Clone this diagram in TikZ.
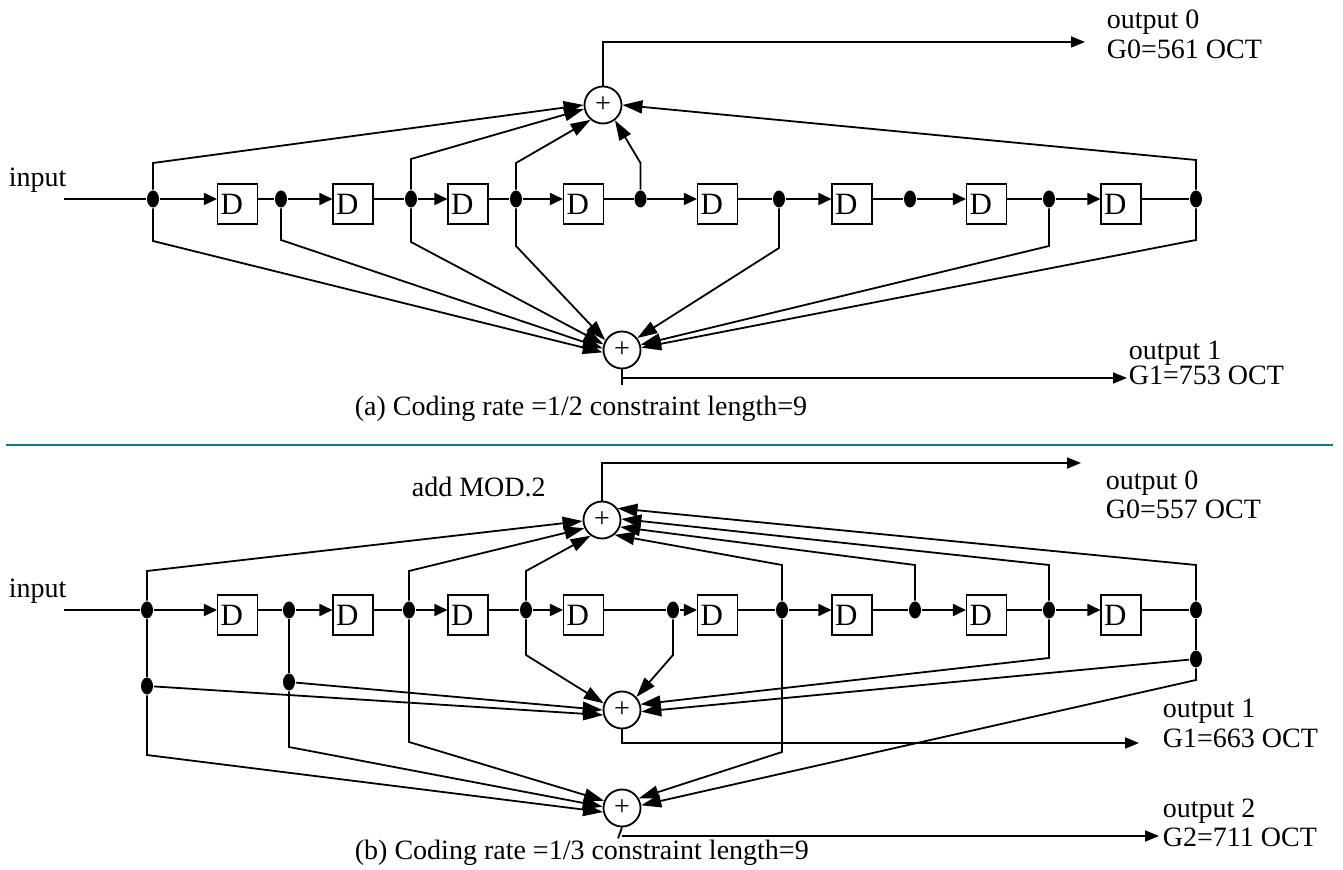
\documentclass[tikz,border=0pt]{standalone}
\usepackage{fontspec}
\setmainfont{Liberation Serif}
\usetikzlibrary{arrows.meta, shapes.geometric, calc}

\definecolor{sepline}{RGB}{0,128,128}

\tikzset{
  every node/.style={font=\fontsize{14}{15}\selectfont},
  dbox/.style={draw, line width=0.75pt, minimum height=20pt, text width=17pt,
                inner xsep=1.4pt, inner ysep=0pt, align=left, font=\fontsize{15.5}{16}\selectfont},
  tapdot/.style={ellipse, fill=black, inner sep=0pt, minimum width=6pt, minimum height=8.5pt},
  adder/.style={circle, draw, line width=0.9pt, minimum size=18.5pt, inner sep=0pt},
  tap/.style={-{Triangle[length=10pt,width=6.5pt]}},
  darr/.style={-{Triangle[length=6.5pt,width=6pt]}},
  outarr/.style={-{Triangle[length=7pt,width=5.5pt]}},
  lbl/.style={anchor=base west, inner sep=0pt}
}

\begin{document}
\begin{tikzpicture}[x=0.5pt, y=-0.5pt, line width=0.9pt]
\useasboundingbox (0,0) rectangle (1343,870);

% (a) 码率 1/2 的移位寄存器
\foreach \x [count=\i] in {237.5,353,468,583.5,717.5,852,986.5,1121}
  \node[dbox] (aD\i) at (\x,204) {D};
\foreach \x [count=\i] in {153,281,411,516,640.5,779,910,1049,1196}
  \node[tapdot] (a\i) at (\x,199) {};
\foreach \i [count=\j from 2] in {1,...,8}
  {\draw[darr] (a\i) -- (aD\i.west |- a\i);
   \draw (aD\i.east |- a\j) -- (a\j);}

\node[lbl] (ain) at (8,187) {input};
\coordinate (ain0) at (64,199);
\draw (ain0) -- (a1);

\node[adder] (aT) at (603,105) {+};
\node[adder] (aB) at (622,350) {+};

% 抽头 -> 模2加法器
\foreach \d/\h/\a in {a1/163/180, a3/159/192, a4/163/230, a5/163/308, a9/160/0}
  \draw[tap] (\d) -- (\d |- 0,\h) -- (aT.\a);
\foreach \d/\h/\a in {a1/241/187, a2/240/175, a3/242/163, a4/246/150,
                      a6/248/38, a8/246/16, a9/240/7}
  \draw[tap] (\d) -- (\d |- 0,\h) -- (aB.\a);

\coordinate (aO0) at (1085,42);
\draw[outarr] (aT) |- (aO0);
\node[lbl] (aG0a) at (1106,29) {output 0};
\node[lbl] (aG0b) at (1106,59) {G0=561 OCT};

\coordinate (aO1) at (1127,378);
\draw (aB.south) -- ++(0,16);
\draw[outarr] (aB) |- (aO1);
\node[lbl] (aG1a) at (1128,360) {output 1};
\node[lbl] (aG1b) at (1128,385) {G1=753 OCT};

\node[lbl] (acap) at (354,416) {(a) Coding rate =1/2 constraint length=9};

% 分隔线
\coordinate (sepL) at (6,445);
\coordinate (sepR) at (1333,445);
\draw[sepline, line width=1.3pt] (sepL) -- (sepR);

% (b) 码率 1/3
\foreach \x [count=\i] in {237.5,353,468,583.5,717.5,852,986.5,1121}
  \node[dbox] (bD\i) at (\x,615) {D};
\foreach \x [count=\i] in {147,289,409,526,673,782,915,1049,1196}
  \node[tapdot] (b\i) at (\x,610) {};
\foreach \i [count=\j from 2] in {1,...,8}
  {\draw[darr] (b\i) -- (bD\i.west |- b\i);
   \draw (bD\i.east |- b\j) -- (b\j);}

\node[lbl] (bin) at (8,598) {input};
\coordinate (bin0) at (64,610);
\draw (bin0) -- (b1);

\node[adder] (bT) at (602,520) {+};
\node[adder] (bM) at (622,710) {+};
\node[adder] (bB) at (622,808) {+};
\node[lbl] (bmod) at (411,497) {add MOD.2};

\node[tapdot] (bj1) at (147,686) {};
\node[tapdot] (bj2) at (289,682) {};
\node[tapdot] (bj9) at (1196,659) {};
\draw (b1) -- (bj1);
\draw (b2) -- (bj2);
\draw (b9) -- (bj9);

\foreach \d/\h/\a in {b1/571/183, b3/571/205, b4/571/234, b6/565/310,
                      b7/565/339, b8/565/3, b9/565/37}
  \draw[tap] (\d) -- (\d |- 0,\h) -- (bT.\a);
\foreach \d/\h/\a in {b4/655/160, b5/655/42, b8/658/17}
  \draw[tap] (\d) -- (\d |- 0,\h) -- (bM.\a);
\foreach \d/\a in {bj1/195, bj2/180, bj9/355}
  \draw[tap] (\d) -- (bM.\a);
\foreach \d/\h/\a in {bj1/755/192, bj2/747/176, b3/742/158, b6/752/30, bj9/680/8}
  \draw[tap] (\d) -- (\d |- 0,\h) -- (bB.\a);

\coordinate (bO0) at (1081,463);
\draw[outarr] (bT) |- (bO0);
\node[lbl] (bG0a) at (1105,490) {output 0};
\node[lbl] (bG0b) at (1105,519) {G0=557 OCT};

\coordinate (bO1) at (1139,743);
\draw[outarr] (bM) |- (bO1);
\node[lbl] (bG1a) at (1162,718) {output 1};
\node[lbl] (bG1b) at (1162,747) {G1=663 OCT};

\coordinate (bO2) at (1159,836);
\draw (bB.south) -- ++(-4,11);
\draw[outarr] (bB.south |- bO2) -- (bO2);
\node[lbl] (bG2a) at (1162,817) {output 2};
\node[lbl] (bG2b) at (1162,846) {G2=711 OCT};

\node[lbl] (bcap) at (354,859) {(b) Coding rate =1/3 constraint length=9};
\end{tikzpicture}
\end{document}
